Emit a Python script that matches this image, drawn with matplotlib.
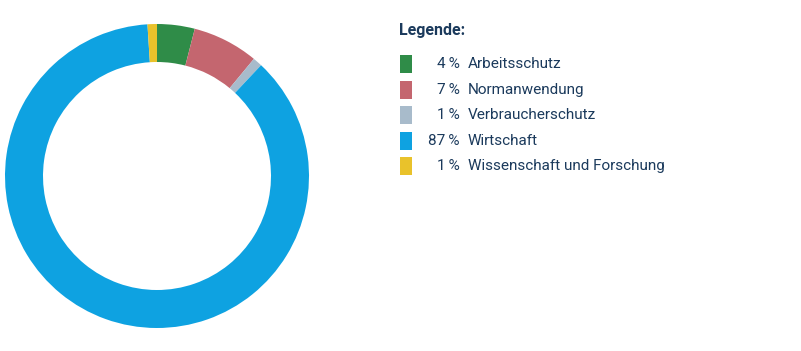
import matplotlib
matplotlib.use("Agg")
import matplotlib.pyplot as plt
from matplotlib.patches import Rectangle

categories = ["Arbeitsschutz", "Normanwendung", "Verbraucherschutz", "Wirtschaft", "Wissenschaft und Forschung"]
values = [4, 7, 1, 87, 1]
colors = ["#2f8c48", "#c4666f", "#a8bbcb", "#0ea2e1", "#e9c22b"]
title = "Legende:"
text_color = "#1b3a5c"

fig = plt.figure(figsize=(8.01, 3.51), dpi=100)
W, H = 801, 351

ax = fig.add_axes([5 / W, (H - 328) / H, 304 / W, 304 / H])
ax.pie(values, colors=colors, startangle=90, counterclock=False,
       wedgeprops=dict(width=0.25, edgecolor="none"))
ax.set_aspect("equal")
ax.set_xlim(-1, 1)
ax.set_ylim(-1, 1)

fam = ["Roboto", "DejaVu Sans"]
fig.text(399 / W, 1 - 30 / H, title, fontsize=11.5, fontweight="bold", color=text_color,
         family=fam, va="center", ha="left")
for i, (c, v, col) in enumerate(zip(categories, values, colors)):
    yc = 64 + i * 25.6
    fig.patches.append(Rectangle((400 / W, 1 - (yc + 9) / H), 12 / W, 18 / H,
                                 transform=fig.transFigure, facecolor=col, edgecolor="none"))
    fig.text(460 / W, 1 - yc / H, f"{v}\u2009%", fontsize=11, color=text_color, family=fam,
             va="center", ha="right")
    fig.text(468 / W, 1 - yc / H, c, fontsize=11, color=text_color, family=fam,
             va="center", ha="left")

fig.savefig("out.png", dpi=100)
